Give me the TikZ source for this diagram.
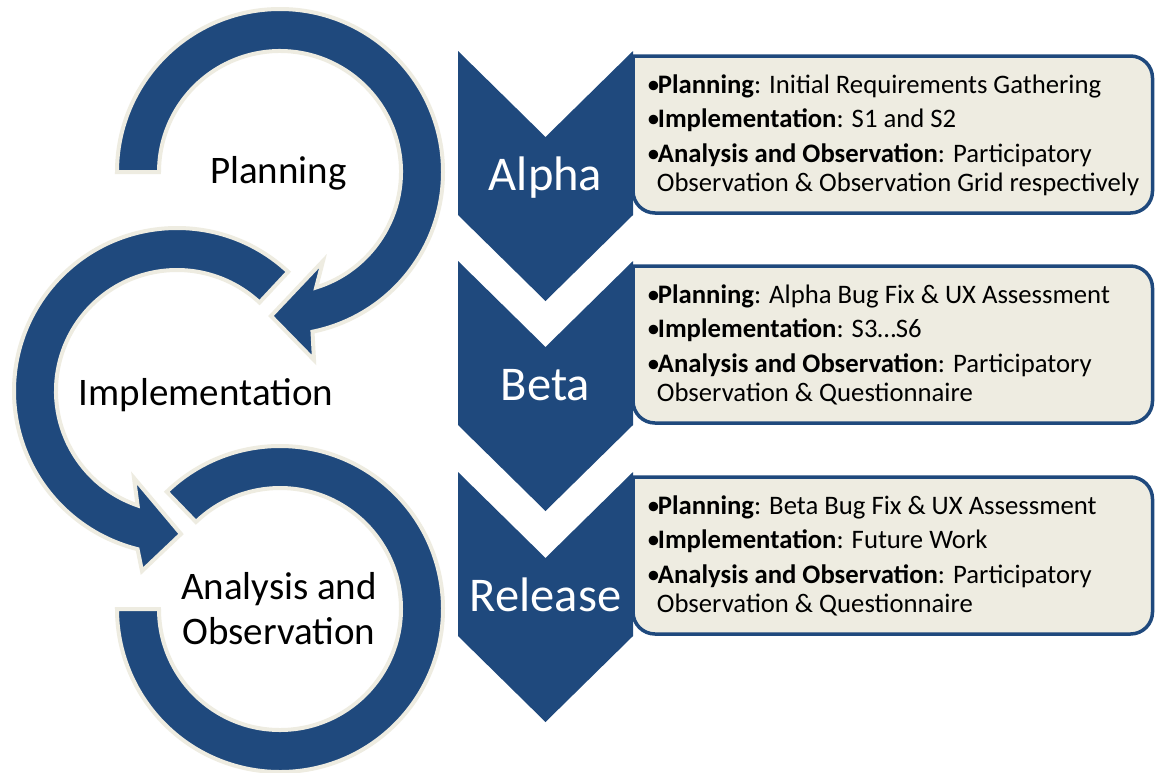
\documentclass[tikz,border=0pt]{standalone}
\usepackage{fontspec}
\setmainfont{Carlito}
\usetikzlibrary{calc}
\definecolor{darkblue}{HTML}{1F497D}
\definecolor{paleback}{HTML}{EEECE1}
\tikzstyle{ringarrow} = [fill=darkblue, draw=paleback, line width=4pt]
\tikzstyle{chevron} = [fill=darkblue]
\tikzstyle{infobox} = [fill=paleback, draw=darkblue, line width=3.5pt]
\tikzstyle{steplabel} = [font=\fontsize{39}{44.4}\selectfont, align=center, inner sep=0pt, anchor=base]
\tikzstyle{phaselabel} = [font=\fontsize{48.5}{58}\selectfont, text=white, inner sep=0pt, anchor=base]
\tikzstyle{itemtext} = [font=\fontsize{26.7}{28.5}\selectfont, inner sep=0pt, anchor=base west]
\newcommand{\itemdot}{\makebox[11pt][l]{\textbullet}}

\begin{document}
\begin{tikzpicture}[x=1pt, y=1pt]
  \fill[white] (0,0) rectangle (1156,-772);
  \useasboundingbox (0,0) rectangle (1156,-772);
  % circular arrows on the left
  \coordinate (c1) at (280,-172);
  \coordinate (c2) at (177,-391);
  \coordinate (c3) at (280,-609);
  \draw[ringarrow] ($(c3)+(134:163pt)$) arc[start angle=134, end angle=-180, radius=163pt]
    -- ($(c3)+(180:121pt)$) arc[start angle=-180, end angle=134, radius=121pt] -- cycle;
  \draw[ringarrow] ($(c2)+(47:163pt)$) arc[start angle=47, end angle=256, radius=163pt]
    -- (142,-571) -- (181,-534) -- (134,-478)
    -- ($(c2)+(251:121pt)$) arc[start angle=251, end angle=47, radius=121pt] -- cycle;
  \draw[ringarrow] ($(c1)+(180:163pt)$) arc[start angle=180, end angle=-78.5, radius=163pt]
    -- (314,-360) -- (271,-316) -- (323,-261)
    -- ($(c1)+(-72.6:121pt)$) arc[start angle=-72.6, end angle=180, radius=121pt] -- cycle;
  \node[steplabel] (plan) at (278.5,-183) {Planning};
  \node[steplabel] (impl) at (206,-405) {Implementation};
  \node[steplabel] (anob) at (279,-644) {Analysis and\\Observation};
  % chevrons and boxes on the right
  \foreach \y/\lab/\nm in {51/Alpha/alpha, 261/Beta/beta, 472/Release/release}{
    \fill[chevron] (458,-\y) -- (545.5,-\y-86) -- (633,-\y) -- (633,-\y-164)
      -- (545.5,-\y-250) -- (458,-\y-164) -- cycle;
    \draw[infobox] (633,-\y-5) [rounded corners=22pt] -- (1152.5,-\y-5) -- (1152.5,-\y-162)
      -- (633,-\y-162) [sharp corners] -- cycle;
    \node[phaselabel] (\nm) at (545.5,-\y-139.5) {\lab};
  }
  % alpha items
  \node[itemtext] (a1) at (646.7,-93.3) {\itemdot\textbf{Planning}: Initial Requirements Gathering};
  \node[itemtext] (a2) at (646.7,-127.9) {\itemdot\textbf{Implementation}: S1 and S2};
  \node[itemtext] (a3) at (646.7,-162.5) {\itemdot\textbf{Analysis and Observation}: Participatory};
  \node[itemtext] (a4) at (656.7,-191.5) {Observation \& Observation Grid respectively};
  % beta items
  \node[itemtext] (b1) at (646.7,-303.3) {\itemdot\textbf{Planning}: Alpha Bug Fix \& UX Assessment};
  \node[itemtext] (b2) at (646.7,-337.9) {\itemdot\textbf{Implementation}: S3…S6};
  \node[itemtext] (b3) at (646.7,-372.5) {\itemdot\textbf{Analysis and Observation}: Participatory};
  \node[itemtext] (b4) at (656.7,-401.5) {Observation \& Questionnaire};
  % release items
  \node[itemtext] (r1) at (646.7,-514.3) {\itemdot\textbf{Planning}: Beta Bug Fix \& UX Assessment};
  \node[itemtext] (r2) at (646.7,-548.9) {\itemdot\textbf{Implementation}: Future Work};
  \node[itemtext] (r3) at (646.7,-583.5) {\itemdot\textbf{Analysis and Observation}: Participatory};
  \node[itemtext] (r4) at (656.7,-612.5) {Observation \& Questionnaire};
\end{tikzpicture}
\end{document}
